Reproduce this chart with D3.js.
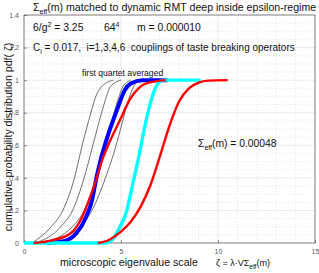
<!DOCTYPE html>
<html>
<head>
<meta charset="utf-8">
<script src="https://cdn.jsdelivr.net/npm/d3@7"></script>
<style>
  body { margin: 0; background: #fff; }
  svg { font-family: "Liberation Sans", Arial, sans-serif; }
  text { white-space: pre; }
</style>
</head>
<body>
<div id="chart"></div>
<script>
// axis ticks
const xTicks = [0, 5, 10, 15];
const yTicks = [0, 0.2, 0.4, 0.6, 0.8, 1, 1.2, 1.4];
const yTickLabels = ["0", "0.2", "0.4", "0.6", "0.8", "1", "1.2", "1.4"];

// four thin black reference curves (RMT predictions)
const black1X = [0.4, 1.4, 2.0, 2.6, 3.0, 3.45, 3.7, 4.0, 4.6];
const black2X = [0.6, 1.9, 2.5, 3.1, 3.55, 4.0, 4.25, 4.45, 5.0];
const black3X = [0.9, 2.5, 3.1, 3.75, 4.25, 4.65, 4.9, 5.1, 5.5];
const black4X = [1.2, 2.9, 3.5, 4.2, 4.75, 5.2, 5.45, 5.65, 6.0];
const blackY = [0, 0.1, 0.2, 0.4, 0.6, 0.8, 0.9, 0.96, 1];

// blue: first quartet averaged
const blueX = [1.2, 2.0, 2.7, 3.2, 3.5, 3.75, 3.95, 4.35, 4.8, 5.2, 5.5, 6.1, 7.4];
const blueY = [0, 0.01, 0.06, 0.16, 0.26, 0.41, 0.51, 0.67, 0.82, 0.94, 0.98, 1, 1];

// red fit to the blue set
const red1X = [0.5, 1.5, 2.4, 3.0, 3.4, 3.75, 4.0, 4.3, 4.95, 5.45, 5.9, 6.3, 7.3];
const red1Y = [0, 0.018, 0.06, 0.16, 0.28, 0.4, 0.5, 0.59, 0.755, 0.88, 0.95, 0.98, 1];

// cyan data set
const cyanX = [0, 4.2, 4.45, 4.95, 5.3, 5.6, 5.9, 6.2, 6.45, 6.7, 6.95, 7.2, 9.1];
const cyanY = [0, 0, 0.01, 0.1, 0.2, 0.36, 0.52, 0.7, 0.83, 0.93, 0.985, 1, 1];

// red curve with Sigma_eff(m) = 0.00048
const red2X = [3.8, 4.4, 5.0, 5.5, 6.0, 6.5, 7.0, 7.5, 8.0, 8.5, 9.0, 9.5, 10.5];
const red2Y = [0, 0.02, 0.07, 0.13, 0.22, 0.35, 0.53, 0.72, 0.87, 0.95, 0.985, 0.997, 1];

const width = 319;
const height = 273;
const margin = { top: 15, right: 4, bottom: 30, left: 24 };

const xScale = d3.scaleLinear().domain([0, 15]).range([margin.left, width - margin.right]);
const yScale = d3.scaleLinear().domain([0, 1.4]).range([height - margin.bottom, margin.top]);

const svg = d3.select("#chart").append("svg")
  .attr("width", width)
  .attr("height", height);

const x0 = xScale(0), x1 = xScale(15), y0 = yScale(0), y1 = yScale(1.4);

// minor grid, dotted
const grid = svg.append("g").attr("class", "grid");
grid.selectAll(".vminor")
  .data(d3.range(1, 15).filter(d => d % 5 !== 0))
  .enter().append("line")
  .attr("x1", d => xScale(d)).attr("x2", d => xScale(d))
  .attr("y1", y0).attr("y2", y1)
  .style("stroke", "#d4d4d4").style("stroke-width", 0.6)
  .style("stroke-dasharray", "1,2");
grid.selectAll(".hminor")
  .data(d3.range(1, 28).map(i => i * 0.05).filter((d, i) => (i + 1) % 4 !== 0))
  .enter().append("line")
  .attr("x1", x0).attr("x2", x1)
  .attr("y1", d => yScale(d)).attr("y2", d => yScale(d))
  .style("stroke", "#d4d4d4").style("stroke-width", 0.6)
  .style("stroke-dasharray", "1,2");
// major grid
grid.selectAll(".vmajor")
  .data(xTicks.slice(1, -1))
  .enter().append("line")
  .attr("x1", d => xScale(d)).attr("x2", d => xScale(d))
  .attr("y1", y0).attr("y2", y1)
  .style("stroke", "#e3e3e3").style("stroke-width", 0.8);
grid.selectAll(".hmajor")
  .data(yTicks.slice(1, -1))
  .enter().append("line")
  .attr("x1", x0).attr("x2", x1)
  .attr("y1", d => yScale(d)).attr("y2", d => yScale(d))
  .style("stroke", "#e3e3e3").style("stroke-width", 0.8);

// axes
const xAxis = d3.axisBottom(xScale).tickValues(xTicks).tickSize(-3).tickPadding(6);
const yAxis = d3.axisLeft(yScale).tickValues(yTicks).tickSize(-3).tickPadding(5)
  .tickFormat((d, i) => yTickLabels[i]);

const xg = svg.append("g").attr("transform", `translate(0,${y0})`).call(xAxis);
const yg = svg.append("g").attr("transform", `translate(${x0},0)`).call(yAxis);
[xg, yg].forEach(g => {
  g.select(".domain").remove();
  g.selectAll(".tick line").style("stroke", "#444").style("stroke-width", 0.6);
  g.selectAll("text").style("font-size", "7px").style("fill", "#555")
    .style("font-family", "Liberation Sans, Arial, sans-serif");
});

// frame
svg.append("rect")
  .attr("x", x0).attr("y", y1)
  .attr("width", x1 - x0).attr("height", y0 - y1)
  .style("fill", "none").style("stroke", "#444").style("stroke-width", 0.7);

const line = d3.line()
  .curve(d3.curveMonotoneX)
  .x(d => xScale(d[0]))
  .y(d => yScale(d[1]));

const zip = (xs, ys) => xs.map((x, i) => [x, ys[i]]);

const curves = svg.append("g").attr("class", "curves");

// thin black curves
[black1X, black2X, black3X, black4X].forEach(xs => {
  curves.append("path")
    .datum(zip(xs, blackY))
    .attr("d", line)
    .style("fill", "none").style("stroke", "#333").style("stroke-width", 0.7);
});

// blue, thick
curves.append("path")
  .datum(zip(blueX, blueY))
  .attr("d", line)
  .style("fill", "none").style("stroke", "#0000ff").style("stroke-width", 4);

// cyan
curves.append("path")
  .datum(zip(cyanX, cyanY))
  .attr("d", line)
  .style("fill", "none").style("stroke", "#00ffff").style("stroke-width", 3.4);

// red fits
[[red1X, red1Y], [red2X, red2Y]].forEach(([xs, ys]) => {
  curves.append("path")
    .datum(zip(xs, ys))
    .attr("d", line)
    .style("fill", "none").style("stroke", "#ff0000").style("stroke-width", 2.4);
});

// texts
const txt = svg.append("g").style("fill", "#111");

const title = txt.append("text").attr("x", 33).attr("y", 11).style("font-size", "10.6px");
title.append("tspan").text("Σ");
title.append("tspan").attr("dy", 2.5).style("font-size", "7px").text("eff");
title.append("tspan").attr("dy", -2.5).text("(m) matched to dynamic RMT deep inside epsilon-regime");

const t2 = txt.append("text").attr("x", 33).attr("y", 31).style("font-size", "10.4px");
t2.append("tspan").text("6/g");
t2.append("tspan").attr("dy", -4).style("font-size", "7px").text("2");
t2.append("tspan").attr("dy", 4).text(" = 3.25");
t2.append("tspan").attr("x", 104).text("64");
t2.append("tspan").attr("dy", -4).style("font-size", "7px").text("4");
t2.append("tspan").attr("dy", 4).attr("x", 137).text("m = 0.000010");

const t3 = txt.append("text").attr("x", 33).attr("y", 51).style("font-size", "10px");
t3.append("tspan").text("C");
t3.append("tspan").attr("dy", 2.5).style("font-size", "7px").text("i");
t3.append("tspan").attr("dy", -2.5).text(" = 0.017,  i=1,3,4,6  couplings of taste breaking operators");

txt.append("text").attr("x", 82).attr("y", 76).style("font-size", "8.6px")
  .text("first quartet averaged");

const t4 = txt.append("text").attr("x", 198).attr("y", 147).style("font-size", "10.3px");
t4.append("tspan").text("Σ");
t4.append("tspan").attr("dy", 2.5).style("font-size", "7px").text("eff");
t4.append("tspan").attr("dy", -2.5).text("(m) = 0.00048");

// x label
const xl = txt.append("text").attr("y", 266).style("font-size", "10.6px");
xl.append("tspan").attr("x", 60).text("microscopic eigenvalue scale");
const xl2 = txt.append("text").attr("x", 216).attr("y", 266).style("font-size", "9px");
xl2.append("tspan").text("ζ = λ·VΣ");
xl2.append("tspan").attr("dy", 2.5).style("font-size", "6.5px").text("eff");
xl2.append("tspan").attr("dy", -2.5).text("(m)");

// y label
txt.append("text")
  .attr("transform", `translate(12,${(y0 + y1) / 2 + 8}) rotate(-90)`)
  .attr("text-anchor", "middle")
  .style("font-size", "10.6px")
  .text("cumulative probability distribution pdf( ζ)");
</script>
</body>
</html>
